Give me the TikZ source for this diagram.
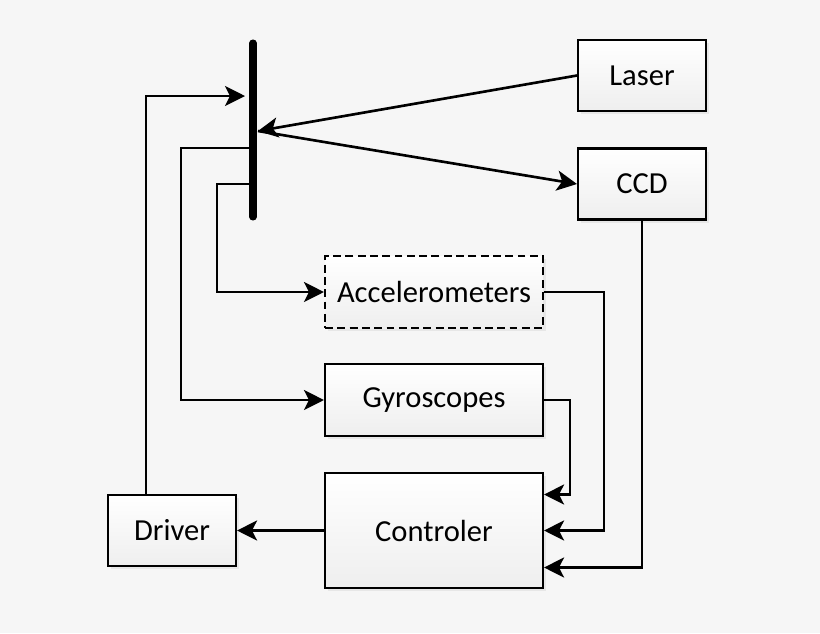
\documentclass[tikz,border=0pt]{standalone}
\usepackage{fontspec}
\setmainfont{Carlito}
\usepackage{tikz}
\usetikzlibrary{shapes,arrows.meta,positioning,shadows}
\tikzstyle{block} = [rectangle, draw, line width=1.2pt, top color=white, bottom color=gray!13,
  drop shadow={opacity=0.12, shadow xshift=0.06cm, shadow yshift=-0.06cm},
  font=\fontsize{17.4}{19}\selectfont, inner sep=0pt]
\tikzstyle{small} = [block, minimum width=2.56cm, minimum height=1.42cm]
\tikzstyle{wide} = [block, minimum width=4.36cm, minimum height=1.44cm]
\tikzstyle{line} = [draw, line width=1.5pt]
\tikzstyle{arrow} = [line, -{Stealth[length=0.4cm, width=0.4cm, inset=0.1cm]}]

\begin{document}
\begin{tikzpicture}[x=0.02cm, y=-0.02cm]
			\fill [gray!7] (0,0) rectangle (820,633);
			\useasboundingbox (0,0) rectangle (820,633);

			% mirror
			\draw [line width=4pt, line cap=round] (253,43) -- (253,217);
			\coordinate (min) at (245,96);
			\coordinate (mhit) at (258,131);
			\coordinate (mgyro) at (253,148);
			\coordinate (macc) at (253,184);

			\node [small] (laser) at (642,75.5) {Laser};
			\node [small] (ccd) at (642,184) {CCD};
			\node [wide, dash pattern=on 4.5pt off 2.5pt] (acc) at (434,292) {Accelerometers};
			\node [wide] (gyro) at (434,400) {Gyroscopes};
			\node [small] (driver) at (172,530.5) {Driver};
			\node [block, minimum width=4.36cm, minimum height=2.3cm] (ctrl) at (434,530.5) {Controler};

			\path [arrow] (laser.west) -- (mhit);
			\path [arrow] (mhit) -- (ccd.west);
			\path [arrow] (driver.north -| 146,0) -- (146,96) -- (min);
			\path [arrow] (mgyro) -- (181,148) |- (gyro.west);
			\path [arrow] (macc) -- (217,184) |- (acc.west);
			\path [arrow] (acc.east) -- (604,292) |- (ctrl.east);
			\path [arrow] (gyro.east) -- (570,400) |- ([yshift=0.72cm]ctrl.east);
			\path [arrow] (ccd.south) |- ([yshift=-0.74cm]ctrl.east);
			\path [arrow] (ctrl.west) -- (driver.east);
		\end{tikzpicture}
\end{document}
